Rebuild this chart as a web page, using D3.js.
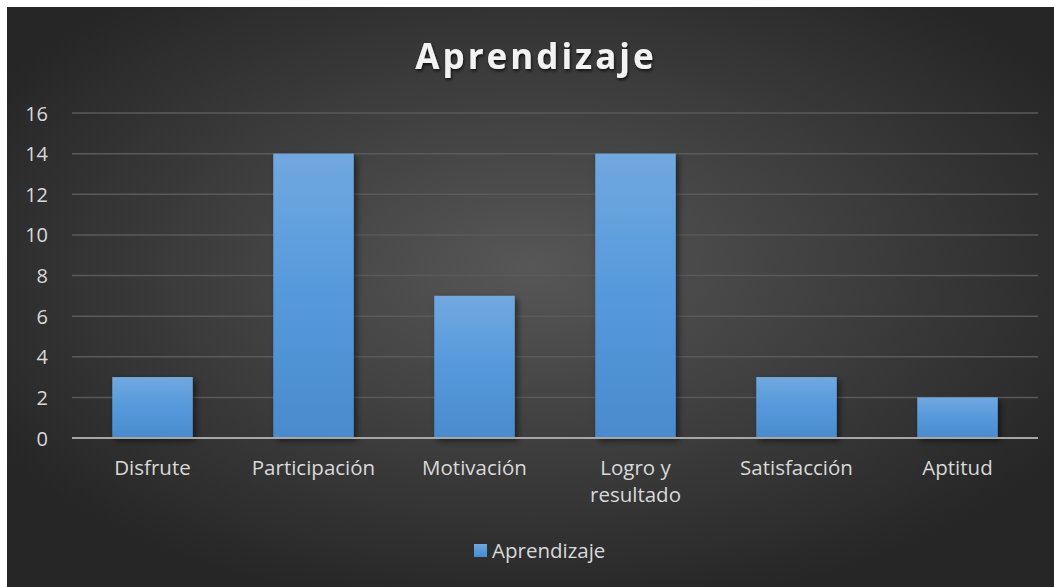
<!DOCTYPE html>
<html><head><meta charset="utf-8">
<script src="https://cdn.jsdelivr.net/npm/d3@7"></script>
<style>body{margin:0;background:#fff;}svg{display:block;}</style>
</head><body>
<script>
const categories = ["Disfrute","Participación","Motivación","Logro y resultado","Satisfacción","Aptitud"];
const values = [3,14,7,14,3,2];
const yTicks = [0,2,4,6,8,10,12,14,16];
const seriesName = "Aprendizaje";
const title = "Aprendizaje";

const W=1054,H=587;
const svg=d3.select("body").append("svg").attr("width",W).attr("height",H);
const defs=svg.append("defs");
const rg=defs.append("radialGradient").attr("id","bg").attr("cx","50%").attr("cy","45%").attr("r","60%");
rg.append("stop").attr("offset","0%").attr("stop-color","#575757");
rg.append("stop").attr("offset","100%").attr("stop-color","#262626");
const bgG=defs.append("linearGradient").attr("id","bar").attr("x1",0).attr("x2",0).attr("y1",0).attr("y2",1);
bgG.append("stop").attr("offset","0%").attr("stop-color","#71a8df");
bgG.append("stop").attr("offset","50%").attr("stop-color","#5599dc");
bgG.append("stop").attr("offset","100%").attr("stop-color","#4a8bcd");
const f=defs.append("filter").attr("id","sh").attr("x","-20%").attr("y","-20%").attr("width","140%").attr("height","140%");
f.append("feDropShadow").attr("dx",3).attr("dy",3).attr("stdDeviation",3).attr("flood-color","#000").attr("flood-opacity",0.5);
const ft=defs.append("filter").attr("id","tsh");
ft.append("feDropShadow").attr("dx",1).attr("dy",2).attr("stdDeviation",1.5).attr("flood-color","#000").attr("flood-opacity",0.7);

svg.append("rect").attr("x",7).attr("y",7).attr("width",W-7).attr("height",H-7).attr("fill","url(#bg)");

const font="'Open Sans', 'Noto Sans', sans-serif";
svg.append("text").attr("x",536).attr("y",69).attr("text-anchor","middle")
  .attr("font-family",font).attr("font-weight","bold").attr("font-size",35)
  .attr("letter-spacing","3px").attr("fill","#f2f2f2").attr("filter","url(#tsh)").text(title);

const x=d3.scaleBand().domain(categories).range([72,1038]).paddingInner(0.5).paddingOuter(0.25);
const y=d3.scaleLinear().domain([0,16]).range([438,113]);

const g=svg.append("g");
g.selectAll("line.grid").data(yTicks.filter(d=>d>0)).join("line")
  .attr("x1",72).attr("x2",1038).attr("y1",d=>y(d)).attr("y2",d=>y(d))
  .attr("stroke","#5a5a5a").attr("stroke-width",1.5);

g.selectAll("rect.bar").data(values).join("rect")
  .attr("x",(d,i)=>x(categories[i])).attr("width",x.bandwidth())
  .attr("y",d=>y(d)).attr("height",d=>y(0)-y(d))
  .attr("fill","url(#bar)").attr("filter","url(#sh)");

g.append("line").attr("x1",72).attr("x2",1038).attr("y1",y(0)).attr("y2",y(0))
  .attr("stroke","#a6a6a6").attr("stroke-width",2);

const yAxis=d3.axisLeft(y).tickValues(yTicks).tickSize(0).tickPadding(0);
const ya=svg.append("g").attr("transform","translate(48,0)").call(yAxis);
ya.select(".domain").remove();
ya.selectAll("text").attr("font-family",font).attr("font-size",20).attr("fill","#d9d9d9").attr("text-anchor","end").attr("dy","0.35em");

const labelFont=20.5;
categories.forEach(c=>{
  const cx=x(c)+x.bandwidth()/2;
  const lines=c==="Logro y resultado"?["Logro y","resultado"]:[c];
  const t=svg.append("text").attr("x",cx).attr("y",475).attr("text-anchor","middle")
    .attr("font-family",font).attr("font-size",labelFont).attr("fill","#d9d9d9");
  lines.forEach((l,i)=>t.append("tspan").attr("x",cx).attr("dy",i?"1.3em":0).text(l));
});

// legend
const lg=svg.append("g");
lg.append("rect").attr("x",474).attr("y",544).attr("width",13).attr("height",13).attr("fill","url(#bar)");
lg.append("text").attr("x",492).attr("y",558).attr("font-family",font).attr("font-size",20.5).attr("fill","#d9d9d9").text(seriesName);
</script>
</body></html>
